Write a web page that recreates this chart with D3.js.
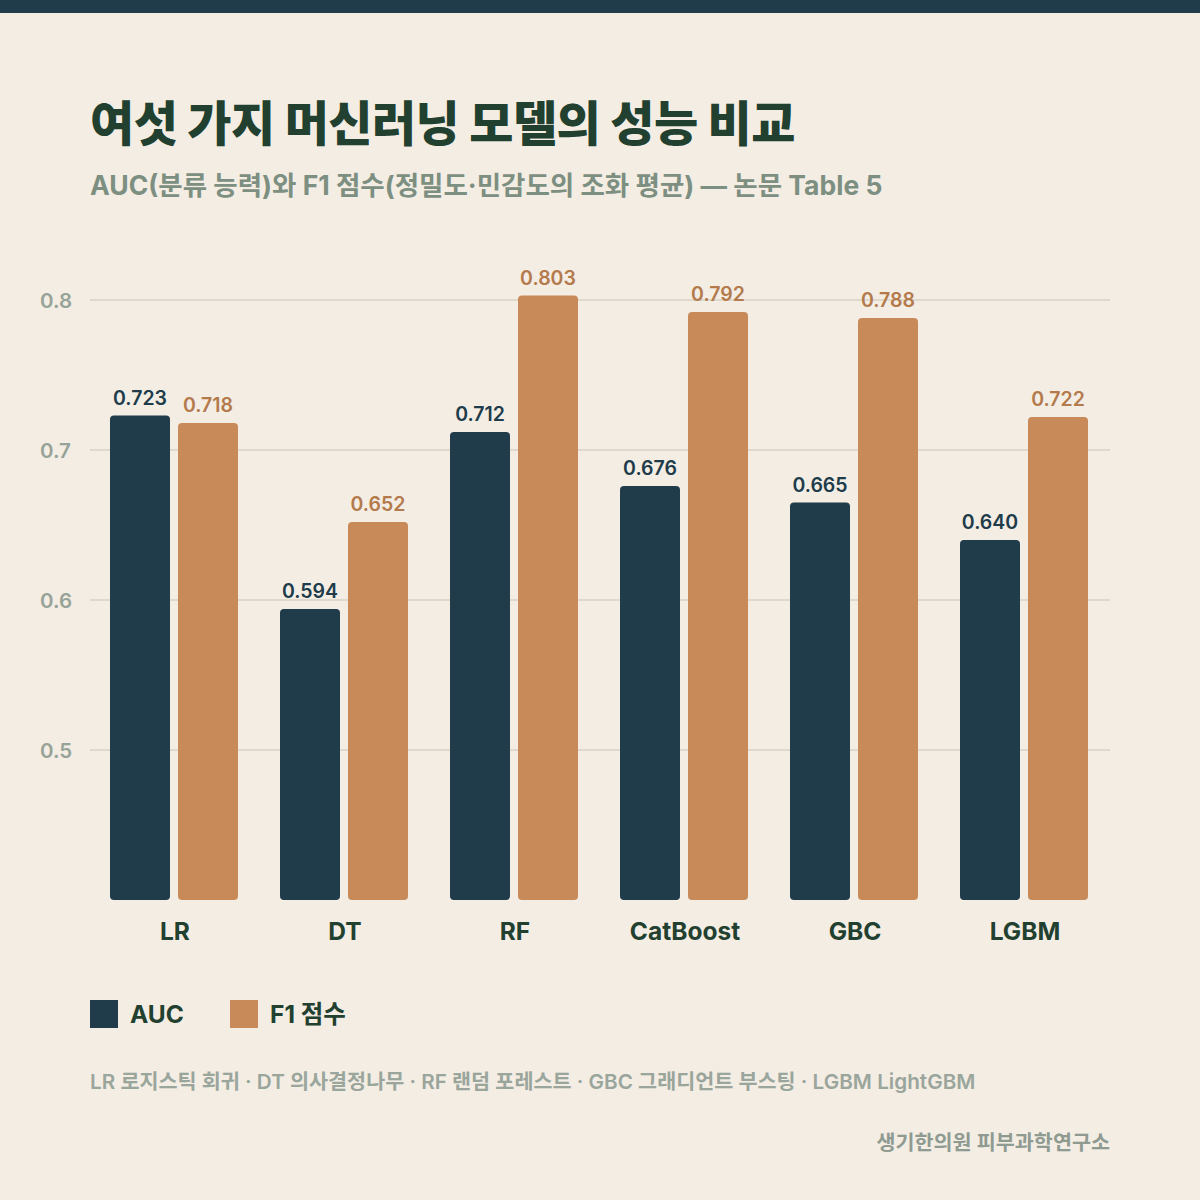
<!DOCTYPE html>
<html><head><meta charset="utf-8">
<script src="https://cdn.jsdelivr.net/npm/d3@7"></script>
<style>
html,body{margin:0;padding:0;background:#f3ede4;}
svg{display:block;font-family:"Inter","Noto Sans CJK KR",sans-serif;}
</style></head>
<body>
<svg id="c" width="1200" height="1200"></svg>
<script>
const categories = ["LR","DT","RF","CatBoost","GBC","LGBM"];
const seriesNames = ["AUC","F1 점수"];
const aucValues = [0.723,0.594,0.712,0.676,0.665,0.640];
const f1Values  = [0.718,0.652,0.803,0.792,0.788,0.722];
const yTicks = [0.5,0.6,0.7,0.8];
const titleText = "여섯 가지 머신러닝 모델의 성능 비교";
const subtitleText = "AUC(분류 능력)와 F1 점수(정밀도·민감도의 조화 평균) — 논문 Table 5";
const footnoteText = "LR 로지스틱 회귀 · DT 의사결정나무 · RF 랜덤 포레스트 · GBC 그래디언트 부스팅 · LGBM LightGBM";
const sourceText = "생기한의원 피부과학연구소";

const colors = ["#203b4a","#c98a5a"];
const labelColors = ["#203b4a","#b47a4c"];

const svg = d3.select("#c");
svg.append("rect").attr("width",1200).attr("height",1200).attr("fill","#f3ede4");
svg.append("rect").attr("width",1200).attr("height",13).attr("fill","#203b4a");

svg.append("text").attr("x",90).attr("y",141).text(titleText)
  .attr("font-size",48).attr("font-weight",800).attr("fill","#22402f").attr("letter-spacing",-0.5);
svg.append("text").attr("x",90).attr("y",195).text(subtitleText)
  .attr("font-size",26.5).attr("font-weight",700).attr("fill","#7d8f81");

const x0 = d3.scaleBand().domain(categories).range([90,1110]).padding(0);
const x1 = d3.scaleBand().domain(seriesNames).range([20,148]).paddingInner(8/68).paddingOuter(0);
const y = d3.scaleLinear().domain([0.4,0.8]).range([900,300]);

const grid = svg.append("g");
grid.selectAll("line").data(yTicks).join("line")
  .attr("x1",90).attr("x2",1110).attr("y1",d=>y(d)).attr("y2",d=>y(d))
  .attr("stroke","#d9d2c6").attr("stroke-width",1.5);
grid.selectAll("text").data(yTicks).join("text")
  .attr("x",40).attr("y",d=>y(d)+8).text(d=>d3.format(".1f")(d))
  .attr("font-size",20.5).attr("font-weight",600).attr("fill","#97a398");

const rows = categories.map((c,i)=>({cat:c, vals:[aucValues[i], f1Values[i]]}));
const g = svg.append("g").selectAll("g").data(rows).join("g")
  .attr("transform",d=>`translate(${x0(d.cat)},0)`);
g.selectAll("rect").data(d=>d.vals.map((v,j)=>({k:seriesNames[j],v,j}))).join("rect")
  .attr("x",d=>x1(d.k)).attr("width",x1.bandwidth())
  .attr("y",d=>y(d.v)).attr("height",d=>y(0.4)-y(d.v))
  .attr("rx",4).attr("fill",d=>colors[d.j]);
g.selectAll("text.v").data(d=>d.vals.map((v,j)=>({k:seriesNames[j],v,j}))).join("text")
  .attr("class","v")
  .attr("x",d=>x1(d.k)+x1.bandwidth()/2).attr("y",d=>y(d.v)-11)
  .attr("text-anchor","middle").text(d=>d3.format(".3f")(d.v))
  .attr("font-size",19.5).attr("font-weight",600).attr("fill",d=>labelColors[d.j]);

svg.append("g").selectAll("text").data(categories).join("text")
  .attr("x",d=>x0(d)+x0.bandwidth()/2).attr("y",940).attr("text-anchor","middle")
  .text(d=>d).attr("font-size",24.5).attr("font-weight",700).attr("fill","#22402f");

const leg = svg.append("g");
const legX = [90,230];
seriesNames.forEach((s,i)=>{
  leg.append("rect").attr("x",legX[i]).attr("y",1000).attr("width",28).attr("height",28).attr("fill",colors[i]);
  leg.append("text").attr("x",legX[i]+40).attr("y",1023).text(s)
    .attr("font-size",24.5).attr("font-weight",700).attr("fill","#22402f");
});

svg.append("text").attr("x",90).attr("y",1089).text(footnoteText)
  .attr("font-size",20.7).attr("font-weight",600).attr("fill","#9aa59c");
svg.append("text").attr("x",1110).attr("y",1150).attr("text-anchor","end").text(sourceText)
  .attr("font-size",20.7).attr("font-weight",600).attr("fill","#8f9a91");
</script>
</body></html>
